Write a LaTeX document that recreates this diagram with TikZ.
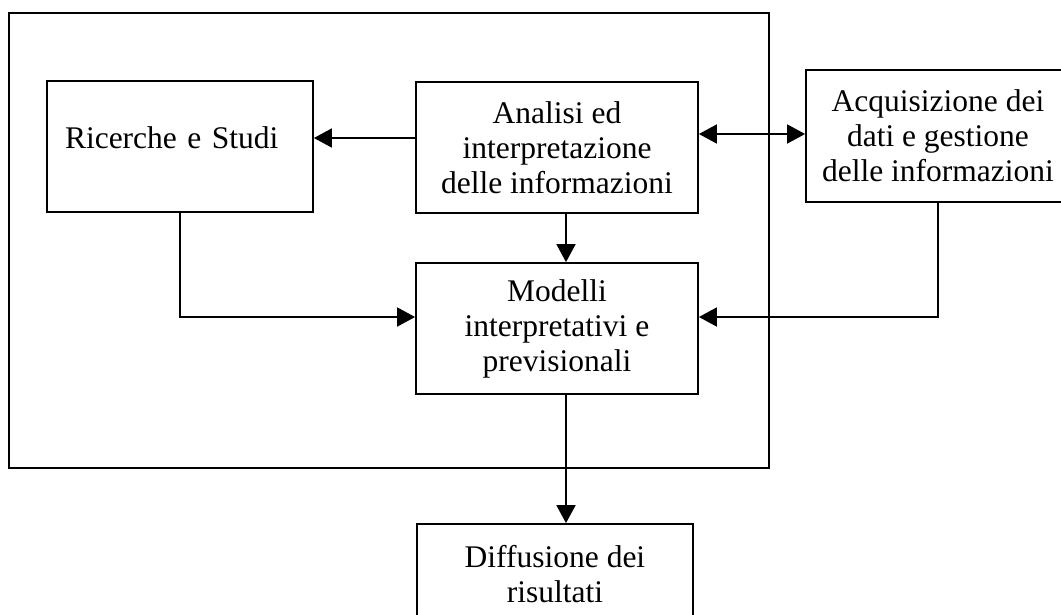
\documentclass[tikz,border=0pt]{standalone}
\usepackage{fontspec}
\setmainfont{Liberation Serif}
\usetikzlibrary{arrows.meta, positioning}
\definecolor{boxStroke}{HTML}{000000}
\definecolor{labelC}{HTML}{000000}
\def\lwBox{1.8pt}
\def\spineX{566}
\def\feedY{317}
\def\leftLinkY{138}
\def\rightLinkY{134}

\tikzset{
  blockbox/.style={draw=boxStroke, line width=\lwBox, inner sep=0pt, align=center, text=labelC},
  flow/.style={draw=boxStroke, line width=\lwBox, >={Triangle[length=18pt, width=19pt]}, ->},
}

\begin{document}
\begin{tikzpicture}[x=1pt, y=-1pt, font=\fontsize{31.5}{35}\selectfont]
  \useasboundingbox (0,0) rectangle (1061,614);

  % Outer frame
  \node[draw=boxStroke, line width=\lwBox, minimum width=760pt, minimum height=455pt, inner sep=0pt]
    (frame) at (389, 240.5) {};

  % Blocks
  \node[blockbox, minimum width=266pt, minimum height=131pt, text width=230pt, align=left,
        text height=21.5pt, text depth=18.5pt]
    (ricerche) at (180, 146.5) {Ricerche e Studi};
  \node[blockbox, minimum width=282pt, minimum height=131pt]
    (analisi) at (557, 147.5) {Analisi ed\\interpretazione\\delle informazioni};
  \node[blockbox, minimum width=264pt, minimum height=132pt]
    (acq) at (938, 136) {Acquisizione dei\\dati e gestione\\delle informazioni};
  \node[blockbox, minimum width=282pt, minimum height=131pt]
    (modelli) at (557, 328.5) {Modelli\\interpretativi e\\previsionali};
  \node[blockbox, minimum width=276pt, minimum height=100pt]
    (diffusione) at (555, 574) {Diffusione dei\\risultati};

  % Reference lines for the connectors
  \coordinate (spine) at (\spineX, 0);
  \coordinate (feed) at (0, \feedY);
  \coordinate (leftLink) at (0, \leftLinkY);
  \coordinate (rightLink) at (0, \rightLinkY);

  % Connectors
  \draw[flow] (analisi.west |- leftLink) -- (ricerche.east |- leftLink);
  \draw[flow, <->] (analisi.east |- rightLink) -- (acq.west |- rightLink);
  \draw[flow] (analisi.south -| spine) -- (modelli.north -| spine);
  \draw[flow] (ricerche.south) |- (modelli.west |- feed);
  \draw[flow] (acq.south) |- (modelli.east |- feed);
  \draw[flow] (modelli.south -| spine) -- (diffusione.north -| spine);
\end{tikzpicture}
\end{document}
